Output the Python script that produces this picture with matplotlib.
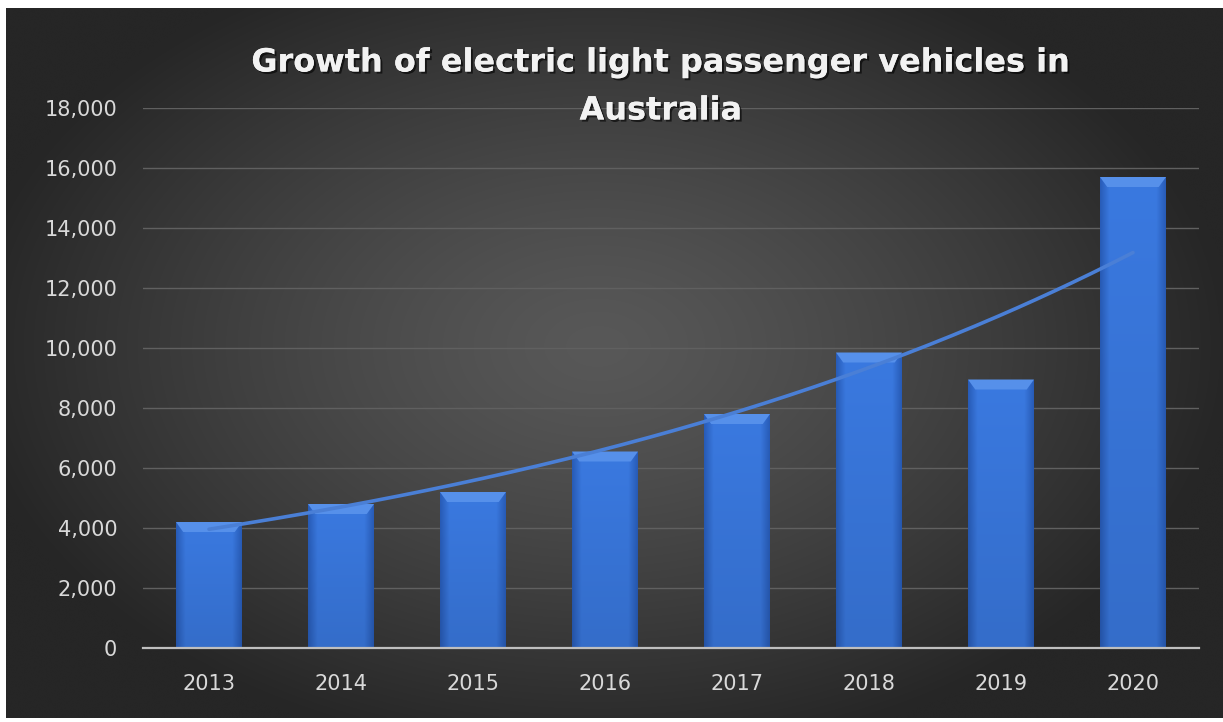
import numpy as np
import matplotlib
matplotlib.use("Agg")
import matplotlib.pyplot as plt
import matplotlib.patheffects as pe
from matplotlib.patches import Polygon
from matplotlib.ticker import FuncFormatter, MultipleLocator

years = ["2013", "2014", "2015", "2016", "2017", "2018", "2019", "2020"]
sales = [4200, 4800, 5200, 6550, 7800, 9850, 8950, 15700]
title_lines = ["Growth of electric light passenger vehicles in", "Australia"]

W, H = 1223, 722
fig = plt.figure(figsize=(W / 100, H / 100), dpi=100)
fig.patch.set_facecolor("white")

# background panel with radial gradient
bg = fig.add_axes([6 / W, (H - 718) / H, (W - 6) / W, (718 - 8) / H])
bg.set_axis_off()
yy, xx = np.mgrid[0:300, 0:500]
cx, cy = 250 * 0.97, 150 * 0.95
r = np.sqrt(((xx - cx) / 260) ** 2 + ((yy - cy) / 175) ** 2)
r = np.clip(r, 0, 1)
inner = np.array([0x58, 0x58, 0x58]) / 255
outer = np.array([0x26, 0x26, 0x26]) / 255
img = inner[None, None, :] * (1 - r[..., None] ** 1.3) + outer[None, None, :] * (r[..., None] ** 1.3)
bg.imshow(img, aspect="auto", extent=[0, 1, 0, 1], interpolation="bicubic")
bg.set_xlim(0, 1)
bg.set_ylim(0, 1)

ax = fig.add_axes([143 / W, (H - 648) / H, (1199 - 143) / W, (648 - 108) / H])
ax.patch.set_alpha(0)
x = np.arange(len(years))
bw = 0.5
ax.set_xlim(-0.5, len(years) - 0.5)
ax.set_ylim(0, 18000)

bars = ax.bar(x, sales, width=bw, color="#3572da", zorder=2)

# gradient + bevel on bars
grad = np.linspace(0, 1, 100)
prof = 1 - np.abs(grad - 0.5) * 2
cols_dark = np.array([0x28, 0x5c, 0xb8]) / 255
cols_light = np.array([0x3a, 0x79, 0xe0]) / 255
fill = cols_dark[None, :] + (cols_light - cols_dark)[None, :] * (np.clip(prof * 3.5, 0, 1)[:, None])
fill_img = np.tile(fill[None, :, :], (60, 1, 1))
vshade = np.linspace(0.9, 1.0, 60)[:, None, None]
fill_img = fill_img * vshade
bevel_h = 10 / 30 * 1000  # ~10 px
bevel_w = 0.055
for xi, v, b in zip(x, sales, bars):
    im = ax.imshow(fill_img, extent=[xi - bw / 2, xi + bw / 2, 0, v], aspect="auto",
                   origin="lower", zorder=2.1, interpolation="bilinear")
    im.set_clip_path(b)
    top = Polygon([[xi - bw / 2, v], [xi + bw / 2, v], [xi + bw / 2 - bevel_w, v - bevel_h],
                   [xi - bw / 2 + bevel_w, v - bevel_h]], closed=True,
                  facecolor="#5690ea", edgecolor="none", zorder=2.2)
    ax.add_patch(top)

# exponential trendline (fitted to the data)
coef = np.polyfit(x, np.log(sales), 1)
xt = np.linspace(x[0], x[-1], 200)
ax.plot(xt, np.exp(np.polyval(coef, xt)), color="#4a7fd6", lw=2.6, zorder=3,
        solid_capstyle="round")

ax.yaxis.set_major_locator(MultipleLocator(2000))
ax.yaxis.set_major_formatter(FuncFormatter(lambda v, p: f"{int(v):,}"))
ax.grid(axis="y", color="#606060", lw=1.0, zorder=0)
ax.set_axisbelow(True)
for s in ["top", "right", "left"]:
    ax.spines[s].set_visible(False)
ax.spines["bottom"].set_color("#bfbfbf")
ax.spines["bottom"].set_linewidth(1.6)
ax.spines["bottom"].set_zorder(4)
ax.tick_params(axis="both", length=0, colors="#d9d9d9")
ax.tick_params(axis="y", pad=18.5, labelsize=15)
ax.tick_params(axis="x", pad=19, labelsize=15)
ax.set_xticks(x)
ax.set_xticklabels(years)
for t in ax.get_yticklabels() + ax.get_xticklabels():
    t.set_family(["DejaVu Sans"])

shadow = [pe.withSimplePatchShadow(offset=(1.5, -1.5), shadow_rgbFace="black", alpha=0.6), pe.Normal()]
for line, yc in zip(title_lines, [63, 111]):
    fig.text(661 / W, 1 - yc / H, line, ha="center", va="center", color="#f2f2f2",
             fontsize=23, fontweight="bold", family=["DejaVu Sans"],
             path_effects=shadow)

fig.savefig("out.png", dpi=100, facecolor=fig.get_facecolor())
